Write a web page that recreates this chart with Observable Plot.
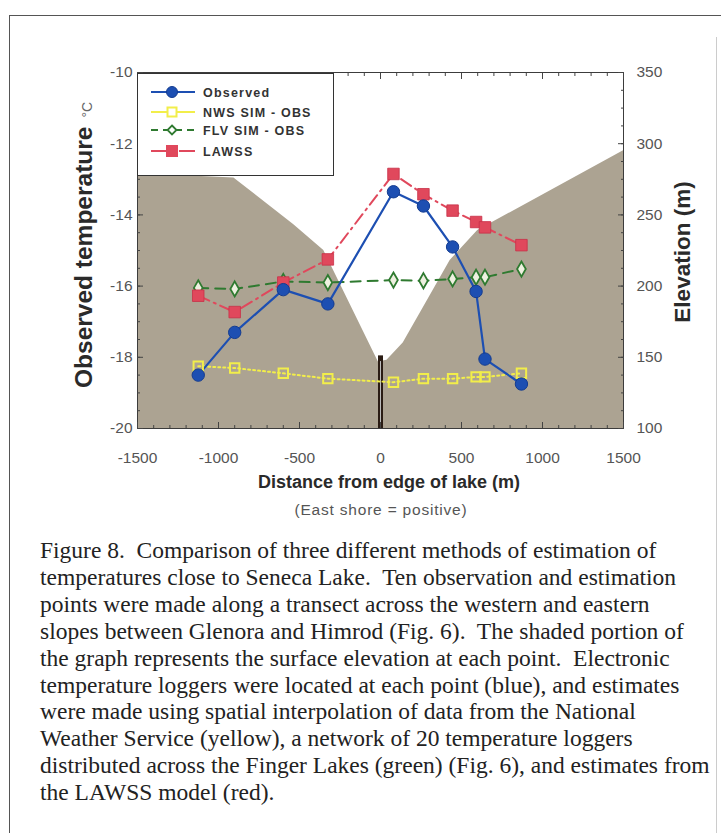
<!DOCTYPE html>
<html><head><meta charset="utf-8">
<script src="https://cdn.jsdelivr.net/npm/d3@7"></script>
<script src="https://cdn.jsdelivr.net/npm/@observablehq/plot@0.6"></script>
<style>
body{margin:0;background:#fff;width:721px;height:833px;overflow:hidden;position:relative;font-family:"Liberation Sans",Arial,sans-serif}
#border{position:absolute;left:9px;top:15px;width:760px;height:900px;border-left:1.5px solid #555;border-top:1.5px solid #555}
#rline{position:absolute;left:716px;top:37px;width:0;height:800px;border-left:1px solid #ccc}
#chart{position:absolute;left:0;top:0}
#caption{position:absolute;left:40px;top:537px;font-family:"Liberation Serif","Times New Roman",serif;font-size:23.5px;line-height:26.9px;color:#222;white-space:nowrap}
</style></head><body>
<div id="border"></div><div id="rline"></div>
<div id="chart"></div>
<div id="caption">Figure 8.&nbsp; Comparison of three different methods of estimation of<br>temperatures close to Seneca Lake.&nbsp; Ten observation and estimation<br>points were made along a transect across the western and eastern<br>slopes between Glenora and Himrod (Fig. 6).&nbsp; The shaded portion of<br>the graph represents the surface elevation at each point.&nbsp; Electronic<br>temperature loggers were located at each point (blue), and estimates<br>were made using spatial interpolation of data from the National<br>Weather Service (yellow), a network of 20 temperature loggers<br>distributed across the Finger Lakes (green) (Fig. 6), and estimates from<br>the LAWSS model (red).</div>
<script>
// ---- data ----
const distance = [-1125, -900, -600, -325, 80, 265, 445, 590, 645, 870];
const observed = [-18.5, -17.3, -16.1, -16.5, -13.35, -13.75, -14.9, -16.15, -18.05, -18.75];
const nwsSim   = [-18.25, -18.3, -18.45, -18.6, -18.7, -18.6, -18.6, -18.55, -18.55, -18.45];
const flvSim   = [-16.05, -16.08, -15.87, -15.9, -15.83, -15.85, -15.8, -15.75, -15.75, -15.52];
const lawss    = [-16.27, -16.73, -15.9, -15.25, -12.85, -13.42, -13.88, -14.2, -14.35, -14.85];

const profileDistance  = [-1500, -905, -535, -350, -10, 0, 40, 140, 265, 430, 600, 1500];
const profileElevation = [279, 276, 243, 225, 146, 147, 148, 160, 185, 218, 239, 295];

const lakeEdge = [0];
const lakeEdgeTop = 151; // elevation (m)

const xMajor = [-1500, -1000, -500, 0, 500, 1000, 1500];
const xMinor = d3.range(-1500, 1501, 100);
const yMajor = [-20, -18, -16, -14, -12, -10];
const yMinor = d3.range(-20, -9.99, 0.5);

const seriesNames = ["Observed", "NWS SIM - OBS", "FLV SIM - OBS", "LAWSS"];
const seriesColors = ["#1d4fb2", "#f2ee4a", "#2f7a30", "#e0485c"];

// elevation <-> temperature axis mapping (100 m at -20 °C, 350 m at -10 °C)
const toT = e => -20 + (e - 100) / 25;
const toE = t => String(Math.round(100 + (t + 20) * 25));

const rows = distance.map((d, i) => ({d, obs: observed[i], nws: nwsSim[i], flv: flvSim[i], law: lawss[i]}));
const profile = profileDistance.map((d, i) => ({d, e: profileElevation[i]}));

const [cObs, cNws, cFlv, cLaw] = seriesColors;
const hy = d => String(d); // plain hyphen-minus, no thousands separator

const chart = Plot.plot({
  width: 721, height: 530,
  marginLeft: 137, marginRight: 98, marginTop: 72, marginBottom: 102,
  style: {fontFamily: "Liberation Sans, Arial, sans-serif", fontSize: "15.5px", color: "#555", background: "transparent", overflow: "visible"},
  x: {domain: [-1500, 1500]},
  y: {domain: [-20, -10]},
  marks: [
    Plot.areaY(profile, {x: "d", y1: () => -20, y2: d => toT(d.e), fill: "#aca392"}),
    Plot.ruleX(lakeEdge, {y1: -20, y2: toT(lakeEdgeTop), stroke: "#2a1c14", strokeWidth: 5}),
    Plot.ruleX(lakeEdge, {y1: -20, y2: toT(lakeEdgeTop - 4), stroke: "#bbb", strokeWidth: 1}),

    Plot.line(rows, {x: "d", y: "nws", stroke: cNws, strokeWidth: 2, strokeDasharray: "2,3"}),
    Plot.line(rows, {x: "d", y: "flv", stroke: cFlv, strokeWidth: 2, strokeDasharray: "10,7"}),
    Plot.line(rows, {x: "d", y: "law", stroke: cLaw, strokeWidth: 2, strokeDasharray: "12,5,2,5"}),
    Plot.line(rows, {x: "d", y: "obs", stroke: cObs, strokeWidth: 2.2}),

    Plot.dot(rows, {x: "d", y: "nws", symbol: "square", r: 5.3, stroke: cNws, strokeWidth: 2, fill: "none"}),
    Plot.dot(rows, {x: "d", y: "flv", symbol: "diamond", r: 4.6, stroke: cFlv, strokeWidth: 1.8, fill: "#eef0e0"}),
    Plot.dot(rows, {x: "d", y: "law", symbol: "square", r: 6.5, fill: cLaw, stroke: "#c83048", strokeWidth: 0.8}),
    Plot.dot(rows, {x: "d", y: "obs", symbol: "circle", r: 6.2, fill: cObs, stroke: "#143c90", strokeWidth: 1}),

    Plot.frame({stroke: "#3c3c3c", strokeWidth: 1}),

    // inward ticks
    Plot.axisX(xMinor, {anchor: "bottom", tickSize: -3, tickFormat: () => "", label: null, stroke: "#444"}),
    Plot.axisX(xMajor, {anchor: "bottom", tickSize: -6, tickFormat: () => "", label: null, stroke: "#444"}),
    Plot.axisX(xMinor, {anchor: "top", tickSize: -3, tickFormat: () => "", label: null, stroke: "#444"}),
    Plot.axisX(xMajor, {anchor: "top", tickSize: -6, tickFormat: () => "", label: null, stroke: "#444"}),
    Plot.axisY(yMinor, {anchor: "left", tickSize: -3, tickFormat: () => "", label: null, stroke: "#444"}),
    Plot.axisY(yMajor, {anchor: "left", tickSize: -6, tickFormat: () => "", label: null, stroke: "#444"}),
    Plot.axisY(yMinor, {anchor: "right", tickSize: -3, tickFormat: () => "", label: null, stroke: "#444"}),
    Plot.axisY(yMajor, {anchor: "right", tickSize: -6, tickFormat: () => "", label: null, stroke: "#444"}),

    // tick labels
    Plot.axisX(xMajor, {anchor: "bottom", tickSize: 0, tickPadding: 23, label: null, fontSize: 15.5, tickFormat: hy}),
    Plot.axisY(yMajor, {anchor: "left", tickSize: 0, tickPadding: 5, label: null, fontSize: 15.5, tickFormat: hy}),
    Plot.axisY(yMajor, {anchor: "right", tickSize: 0, tickPadding: 13, label: null, fontSize: 15.5, tickFormat: toE})
  ]
});
document.getElementById("chart").append(chart);

// annotations & legend
const svg = d3.select(chart);
const ff = "Liberation Sans, Arial, sans-serif";
const yl = svg.append("text").attr("transform", "translate(92,388) rotate(-90)").attr("text-anchor", "start")
  .attr("fill", "#2a2a2a").style("font-family", ff);
yl.append("tspan").text("Observed temperature").style("font-size", "24.5px").style("font-weight", "bold");
yl.append("tspan").text("°C").attr("dx", 9).style("font-size", "14px").style("font-weight", "normal").attr("fill", "#666");

svg.append("text").attr("transform", "translate(690,252) rotate(-90)").attr("text-anchor", "middle")
  .attr("fill", "#2a2a2a").style("font-family", ff).style("font-size", "22.5px").style("font-weight", "bold").text("Elevation (m)");

svg.append("text").attr("x", 389).attr("y", 488).attr("text-anchor", "middle").attr("fill", "#2a2a2a")
  .style("font-family", ff).style("font-size", "18px").style("font-weight", "bold").text("Distance from edge of lake (m)");
svg.append("text").attr("x", 381).attr("y", 515).attr("text-anchor", "middle").attr("fill", "#555")
  .style("font-family", ff).style("font-size", "15.5px").style("letter-spacing", "0.8px").text("(East shore = positive)");

const lg = svg.append("g");
lg.append("rect").attr("x", 137.5).attr("y", 73.5).attr("width", 196).attr("height", 102)
  .attr("fill", "#fff").attr("stroke", "#333").attr("stroke-width", 1);
const ly = [92, 112, 130, 151];
const dashes = [null, null, "7,5", "18,4,2,4"];
seriesNames.forEach((name, i) => {
  const y = ly[i], c = seriesColors[i];
  lg.append("line").attr("x1", 151).attr("x2", 195).attr("y1", y).attr("y2", y)
    .attr("stroke", c).attr("stroke-width", 2).attr("stroke-dasharray", dashes[i]);
  if (i === 0) lg.append("circle").attr("cx", 172).attr("cy", y).attr("r", 5.5).attr("fill", c).attr("stroke", "#143c90");
  if (i === 1) lg.append("rect").attr("x", 167.5).attr("y", y - 4.5).attr("width", 9).attr("height", 9).attr("fill", "#fff").attr("stroke", c).attr("stroke-width", 2);
  if (i === 2) lg.append("path").attr("d", `M172,${y-4.5}L176.5,${y}L172,${y+4.5}L167.5,${y}Z`).attr("fill", "#fff").attr("stroke", c).attr("stroke-width", 1.8);
  if (i === 3) lg.append("rect").attr("x", 166).attr("y", y - 6).attr("width", 12).attr("height", 12).attr("fill", c);
  lg.append("text").attr("x", 203).attr("y", y + 4.5).attr("text-anchor", "start").attr("fill", "#333")
    .style("font-size", "12.5px").style("letter-spacing", "1.2px").style("font-weight", "bold").style("font-family", ff).text(name);
});
</script>
</body></html>
